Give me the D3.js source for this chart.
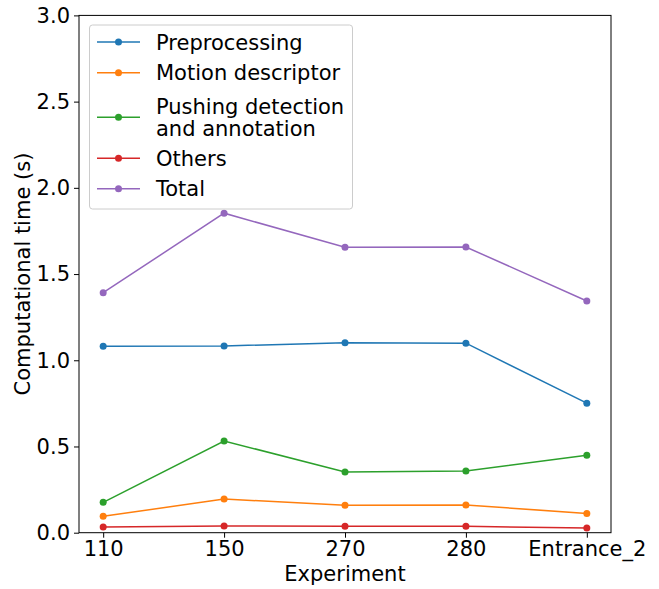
<!DOCTYPE html>
<html><head><meta charset="utf-8">
<script src="https://cdn.jsdelivr.net/npm/d3@7"></script>
<style>body{margin:0;background:#fff;font-family:"DejaVu Sans",sans-serif;}</style>
</head><body><svg id="c" width="659" height="589"></svg>
<script>
const categories = ["110","150","270","280","Entrance_2"];
const preprocessing = [1.081,1.083,1.102,1.099,0.751];
const motionDescriptor = [0.095,0.195,0.159,0.161,0.112];
const pushingDetection = [0.176,0.532,0.352,0.358,0.449];
const others = [0.033,0.039,0.037,0.037,0.027];
const total = [1.392,1.853,1.655,1.657,1.344];
const yTicks = [0,0.5,1.0,1.5,2.0,2.5,3.0];
const seriesNames = [["Preprocessing"],["Motion descriptor"],["Pushing detection","and annotation"],["Others"],["Total"]];
const seriesColors = ["#1f77b4","#ff7f0e","#2ca02c","#d62728","#9467bd"];
const seriesData = [preprocessing, motionDescriptor, pushingDetection, others, total];

const FS = "21px";
const svg = d3.select("#c");
const L=79, R=611, T=15.4, B=532.7;
const x = d3.scaleLinear().domain([-0.2, 4.2]).range([L, R]);
const y = d3.scaleLinear().domain([0, 3]).range([B, T]);

svg.append("rect").attr("x",L).attr("y",T).attr("width",R-L).attr("height",B-T)
  .attr("fill","none").attr("stroke","#000").attr("stroke-width",1);

const yAxis = d3.axisLeft(y).tickValues(yTicks).tickFormat(d3.format(".1f")).tickSize(5).tickPadding(4);
const gy = svg.append("g").attr("transform",`translate(${L},0)`).call(yAxis);
const xAxis = d3.axisBottom(x).tickValues(d3.range(categories.length)).tickFormat(i=>categories[i]).tickSize(5).tickPadding(3);
const gx = svg.append("g").attr("transform",`translate(0,${B})`).call(xAxis);
[gx,gy].forEach(g=>{
  g.select(".domain").remove();
  g.selectAll("line").attr("stroke","#000").attr("stroke-width",1);
  g.selectAll("text").attr("fill","#000").style("font-family","DejaVu Sans").style("font-size",FS);
});

svg.append("text").attr("x",(L+R)/2).attr("y",581).attr("text-anchor","middle")
  .style("font-family","DejaVu Sans").style("font-size",FS).text("Experiment");
svg.append("text").attr("transform",`translate(30,${(T+B)/2}) rotate(-90)`).attr("text-anchor","middle")
  .style("font-family","DejaVu Sans").style("font-size",FS).text("Computational time (s)");

const line = d3.line().x((d,i)=>x(i)).y(d=>y(d));
seriesData.forEach((data,k)=>{
  svg.append("path").datum(data).attr("d",line).attr("fill","none")
    .attr("stroke",seriesColors[k]).attr("stroke-width",1.5);
  svg.selectAll(null).data(data).enter().append("circle")
    .attr("cx",(d,i)=>x(i)).attr("cy",d=>y(d)).attr("r",3.5).attr("fill",seriesColors[k]);
});

const lg = svg.append("g");
lg.append("rect").attr("x",89.5).attr("y",25).attr("width",263).attr("height",184).attr("rx",3)
  .attr("fill","#fff").attr("fill-opacity",0.8).attr("stroke","#ccc").attr("stroke-width",1);
const rowY = [42,72.7,117.3,158.3,188.7];
seriesNames.forEach((lines,k)=>{
  const cy = rowY[k];
  lg.append("line").attr("x1",97).attr("x2",140).attr("y1",cy).attr("y2",cy)
    .attr("stroke",seriesColors[k]).attr("stroke-width",1.5);
  lg.append("circle").attr("cx",118.5).attr("cy",cy).attr("r",3.5).attr("fill",seriesColors[k]);
  const t = lg.append("text").attr("x",156).style("font-family","DejaVu Sans").style("font-size",FS).attr("fill","#000");
  if(lines.length===1){
    t.attr("y",cy+7.5).text(lines[0]);
  } else {
    t.append("tspan").attr("x",156).attr("y",cy-3.5).text(lines[0]);
    t.append("tspan").attr("x",156).attr("y",cy+18.5).text(lines[1]);
  }
});
</script></body></html>
